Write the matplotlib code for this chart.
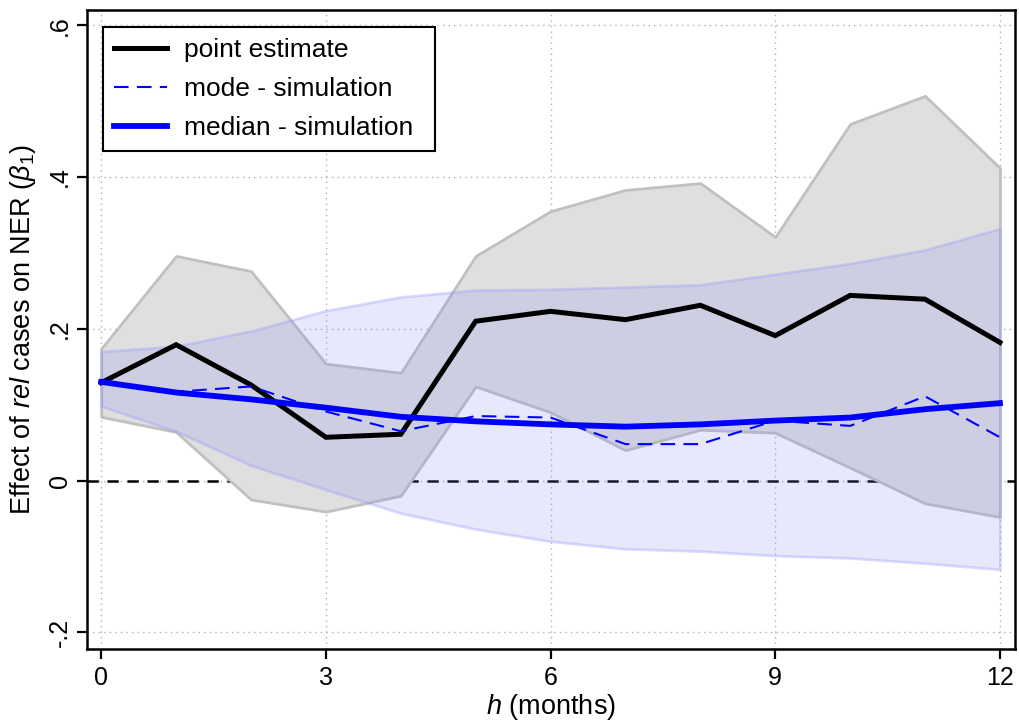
import matplotlib
matplotlib.use("Agg")
import matplotlib.pyplot as plt
import numpy as np

plt.rcParams['font.family'] = ['Liberation Sans', 'DejaVu Sans']
plt.rcParams['mathtext.fontset'] = 'custom'
plt.rcParams['mathtext.rm'] = 'Liberation Sans'
plt.rcParams['mathtext.it'] = 'Liberation Sans:italic'

h = [0, 1, 2, 3, 4, 5, 6, 7, 8, 9, 10, 11, 12]
point_est = [0.129, 0.179, 0.126, 0.057, 0.061, 0.210, 0.223, 0.212, 0.231, 0.191, 0.244, 0.239, 0.182]
pe_upper = [0.174, 0.296, 0.276, 0.154, 0.142, 0.296, 0.355, 0.383, 0.392, 0.321, 0.470, 0.507, 0.412]
pe_lower = [0.084, 0.064, -0.025, -0.041, -0.020, 0.124, 0.090, 0.040, 0.067, 0.063, 0.017, -0.030, -0.048]
sim_median = [0.130, 0.116, 0.107, 0.096, 0.084, 0.078, 0.074, 0.071, 0.074, 0.079, 0.083, 0.094, 0.102]
sim_mode = [0.130, 0.117, 0.124, 0.091, 0.065, 0.085, 0.083, 0.048, 0.048, 0.079, 0.072, 0.111, 0.057]
sim_upper = [0.170, 0.177, 0.197, 0.224, 0.242, 0.251, 0.252, 0.255, 0.258, 0.272, 0.286, 0.304, 0.332]
sim_lower = [0.098, 0.065, 0.020, -0.012, -0.043, -0.064, -0.080, -0.090, -0.093, -0.099, -0.102, -0.109, -0.117]

xticks = [0, 3, 6, 9, 12]
yticks = [-0.2, 0, 0.2, 0.4, 0.6]
ytick_labels = ['-.2', '0', '.2', '.4', '.6']

fig = plt.figure(figsize=(10.2, 7.23), dpi=100)
ax = fig.add_axes([0.0853, 0.1024, 0.9097, 0.8836])

ax.set_xlim(-0.19, 12.2)
ax.set_ylim(-0.222, 0.62)

# grid
for xv in xticks:
    ax.axvline(xv, color='#b0b0b0', lw=1.0, ls=(0, (1, 3)), zorder=0)
for yv in yticks:
    ax.axhline(yv, color='#b0b0b0', lw=1.0, ls=(0, (1, 3)), zorder=0)

ax.axhline(0, color='black', lw=1.8, ls=(0, (4.5, 3.5)), zorder=1)

ax.fill_between(h, pe_lower, pe_upper, facecolor='#dfdfdf', edgecolor='#c0c0c0', lw=2, zorder=2)
ax.fill_between(h, sim_lower, sim_upper, facecolor=(0.53, 0.53, 0.94, 0.19),
                edgecolor=(0.6, 0.6, 1.0, 0.35), lw=2, zorder=3)

ax.plot(h, point_est, color='black', lw=3.6, zorder=4, label='point estimate', solid_joinstyle='miter')
ax.plot(h, sim_mode, color='blue', lw=1.5, ls=(0, (7, 4)), zorder=5, label='mode - simulation')
ax.plot(h, sim_median, color='blue', lw=4.2, zorder=6, label='median - simulation')

ax.set_xticks(xticks)
ax.set_xticklabels([str(x) for x in xticks])
ax.set_yticks(yticks)
ax.set_yticklabels(ytick_labels, rotation=90, va='center')
ax.tick_params(axis='both', direction='out', length=7, width=1.6, labelsize=18, color='black')
ax.tick_params(axis='x', pad=5)
ax.tick_params(axis='y', pad=4)
for s in ax.spines.values():
    s.set_linewidth(1.8)

ax.set_xlabel(r'$h$ (months)', fontsize=19.5, labelpad=2)
ax.set_ylabel(r'Effect of $rel$ cases on NER ($\beta_{\mathit{1}}$)', fontsize=19.5, labelpad=7)

leg = ax.legend(loc='upper left', bbox_to_anchor=(0.017, 0.973 - 0.193, 0.358, 0.193), mode='expand',
                fontsize=19, frameon=True,
                fancybox=False, edgecolor='black', framealpha=1, handlelength=2.0,
                borderpad=0.42, labelspacing=0.56, handletextpad=0.65, borderaxespad=0)
leg.get_frame().set_linewidth(1.5)

fig.savefig('out.png', dpi=100)
